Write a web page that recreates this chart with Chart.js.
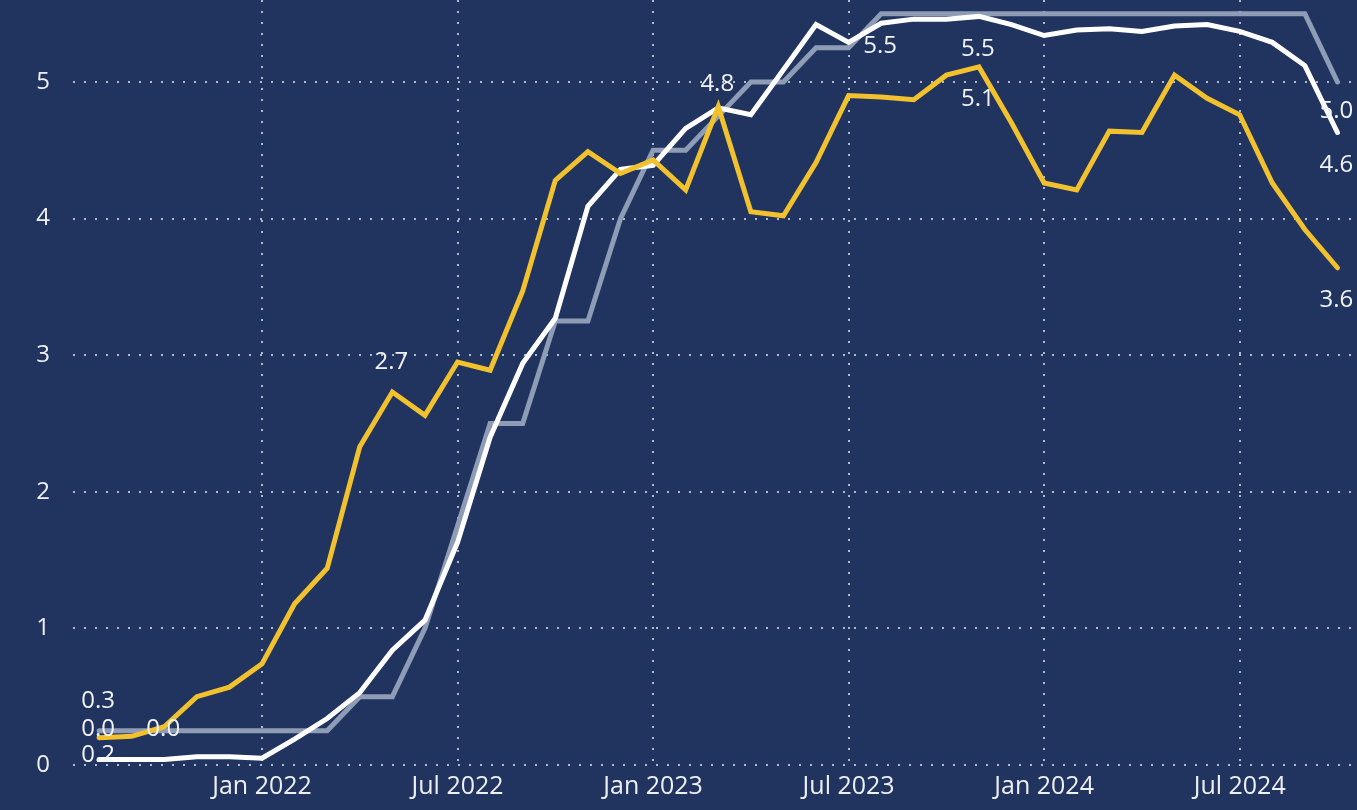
<!DOCTYPE html>
<html>
<head>
<meta charset="utf-8">
<title>Rates</title>
<script src="https://cdn.jsdelivr.net/npm/chart.js@4.4.1/dist/chart.umd.min.js"></script>
<style>
  html, body { margin: 0; padding: 0; background: #20345f; }
  #wrap { width: 1357px; height: 810px; position: relative; }
</style>
</head>
<body>
<div id="wrap"><canvas id="chart"></canvas></div>
<script>
// month-end observations, Jul 2021 .. Sep 2024
const months = [
    '2021-07', '2021-08', '2021-09', '2021-10', '2021-11', '2021-12',
    '2022-01', '2022-02', '2022-03', '2022-04', '2022-05', '2022-06',
    '2022-07', '2022-08', '2022-09', '2022-10', '2022-11', '2022-12',
    '2023-01', '2023-02', '2023-03', '2023-04', '2023-05', '2023-06',
    '2023-07', '2023-08', '2023-09', '2023-10', '2023-11', '2023-12',
    '2024-01', '2024-02', '2024-03', '2024-04', '2024-05', '2024-06',
    '2024-07', '2024-08', '2024-09'
];

// yellow
const twoYear = [
    0.20, 0.21, 0.28, 0.50, 0.57, 0.74,
    1.18, 1.44, 2.33, 2.73, 2.56, 2.95,
    2.89, 3.47, 4.28, 4.49, 4.33, 4.43,
    4.21, 4.82, 4.05, 4.02, 4.41, 4.90,
    4.89, 4.87, 5.05, 5.11, 4.70, 4.26,
    4.21, 4.64, 4.63, 5.05, 4.88, 4.76,
    4.26, 3.92, 3.64
];

// white
const shortRate = [
    0.04, 0.04, 0.04, 0.06, 0.06, 0.05,
    0.19, 0.34, 0.53, 0.84, 1.06, 1.63,
    2.40, 2.94, 3.27, 4.09, 4.36, 4.39,
    4.66, 4.81, 4.76, 5.09, 5.42, 5.29,
    5.43, 5.46, 5.46, 5.48, 5.42, 5.34,
    5.38, 5.39, 5.37, 5.41, 5.42, 5.37,
    5.29, 5.12, 4.63
];

// grey step line
const fedUpper = [
    0.25, 0.25, 0.25, 0.25, 0.25, 0.25,
    0.25, 0.25, 0.50, 0.50, 1.00, 1.75,
    2.50, 2.50, 3.25, 3.25, 4.00, 4.50,
    4.50, 4.75, 5.00, 5.00, 5.25, 5.25,
    5.50, 5.50, 5.50, 5.50, 5.50, 5.50,
    5.50, 5.50, 5.50, 5.50, 5.50, 5.50,
    5.50, 5.50, 5.00
];

const xTickLabels = ['Jan 2022', 'Jul 2022', 'Jan 2023', 'Jul 2023', 'Jan 2024', 'Jul 2024'];
const yTicks = [0, 1, 2, 3, 4, 5];

// which points get a value label: dataset, point index, vertical offset
const pointLabels = [
    {ds: 2, i: 0, dy: -30},
    {ds: 1, i: 0, dy: -30},
    {ds: 0, i: 0, dy: 17},
    {ds: 1, i: 2, dy: -30},
    {ds: 0, i: 9, dy: -30},
    {ds: 0, i: 19, dy: -22},
    {ds: 2, i: 24, dy: 32},
    {ds: 1, i: 27, dy: 33},
    {ds: 0, i: 27, dy: 32},
    {ds: 2, i: 38, dy: 29},
    {ds: 1, i: 38, dy: 33},
    {ds: 0, i: 38, dy: 32}
];

const FONT = '"Segoe UI", "Open Sans", sans-serif';
const gridColor = 'rgba(205, 210, 220, 0.85)';

// month-end of Dec / Jun sits on the Jan / Jul gridline
const xTickPos = months
    .map((m, i) => (m.endsWith('-12') || m.endsWith('-06')) ? i : -1)
    .filter(i => i >= 0);

function toPoints(arr) {
    return arr.map((v, i) => ({x: i, y: v}));
}

const pointLabelPlugin = {
    id: 'pointLabels',
    afterDatasetsDraw(chart) {
        const ctx = chart.ctx;
        ctx.save();
        ctx.font = '24px ' + FONT;
        ctx.fillStyle = '#f1f3f7';
        ctx.textAlign = 'center';
        ctx.textBaseline = 'middle';
        pointLabels.forEach(l => {
            const pt = chart.getDatasetMeta(l.ds).data[l.i];
            const v = chart.data.datasets[l.ds].data[l.i].y;
            ctx.fillText(v.toFixed(1), pt.x - 1, pt.y + l.dy);
        });
        ctx.restore();
    }
};

const myChart = new Chart(document.getElementById('chart'), {
    type: 'line',
    data: {
        datasets: [
            {
                label: '2-year',
                data: toPoints(twoYear),
                borderColor: '#f2c12e',
                borderWidth: 5
            },
            {
                label: 'Short rate',
                data: toPoints(shortRate),
                borderColor: '#ffffff',
                borderWidth: 5
            },
            {
                label: 'Upper bound',
                data: toPoints(fedUpper),
                borderColor: '#8e9cb6',
                borderWidth: 5
            }
        ]
    },
    options: {
        responsive: true,
        maintainAspectRatio: false,
        animation: false,
        layout: {padding: 0},
        elements: {
            point: {radius: 0, hoverRadius: 0},
            line: {tension: 0, borderJoinStyle: 'miter', borderCapStyle: 'round'}
        },
        scales: {
            x: {
                type: 'linear',
                min: -0.8,
                max: 38.6,
                afterBuildTicks: (axis) => {
                    axis.ticks = xTickPos.map(v => ({value: v}));
                },
                afterFit: (scale) => {
                    scale.height = 45;
                    scale.paddingLeft = 0;
                    scale.paddingRight = 0;
                },
                ticks: {
                    color: '#eef0f4',
                    font: {family: FONT, size: 25},
                    padding: 7,
                    maxRotation: 0,
                    autoSkip: false,
                    callback: (value) => xTickLabels[xTickPos.indexOf(value)]
                },
                grid: {color: gridColor, lineWidth: 2, drawTicks: false},
                border: {display: false, dash: [2, 9]}
            },
            y: {
                min: 0,
                max: 5.6,
                afterBuildTicks: (axis) => {
                    axis.ticks = yTicks.map(v => ({value: v}));
                },
                afterFit: (scale) => {
                    scale.width = 73;
                    scale.paddingTop = 0;
                    scale.paddingBottom = 0;
                },
                ticks: {
                    color: '#eef0f4',
                    font: {family: FONT, size: 24},
                    padding: 23,
                    callback: (value) => value
                },
                grid: {color: gridColor, lineWidth: 2, drawTicks: false},
                border: {display: false, dash: [2, 9]}
            }
        },
        plugins: {
            legend: {display: false},
            tooltip: {enabled: false}
        }
    },
    plugins: [pointLabelPlugin]
});
</script>
</body>
</html>
